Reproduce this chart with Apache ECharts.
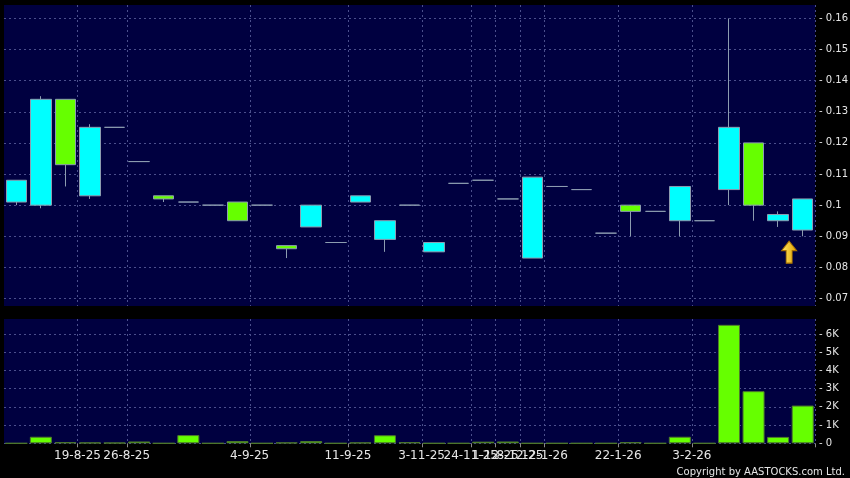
<!DOCTYPE html>
<html>
<head>
<meta charset="utf-8">
<script src="https://cdn.jsdelivr.net/npm/echarts@6/dist/echarts.min.js"></script>
<style>
  html, body { margin: 0; padding: 0; background: #000; }
  #chart { width: 850px; height: 478px; }
</style>
</head>
<body>
<div id="chart"></div>
<script>
// trading days (only some of them get a label on the axis)
const days = [
  '13-8-25', '14-8-25', '15-8-25', '19-8-25', '21-8-25', '26-8-25', '27-8-25', '28-8-25',
  '29-8-25', '2-9-25', '4-9-25', '5-9-25', '8-9-25', '9-9-25', '11-9-25', '12-9-25',
  '15-9-25', '3-11-25', '5-11-25', '24-11-25', '1-12-25', '8-12-25', '12-1-26', '14-1-26',
  '16-1-26', '22-1-26', '23-1-26', '27-1-26', '3-2-26', '4-2-26', '5-2-26', '6-2-26', '9-2-26'
];
const labelDays = [3, 5, 10, 14, 17, 19, 20, 21, 22, 25, 28];

const opens  = [0.101, 0.100, 0.134, 0.103, 0.125, 0.114, 0.103, 0.101, 0.100, 0.101, 0.100,
                0.087, 0.093, 0.088, 0.101, 0.089, 0.100, 0.085, 0.107, 0.108, 0.102, 0.083,
                0.106, 0.105, 0.091, 0.100, 0.098, 0.095, 0.095, 0.105, 0.120, 0.095, 0.092];
const closes = [0.108, 0.134, 0.113, 0.125, 0.125, 0.114, 0.102, 0.101, 0.100, 0.095, 0.100,
                0.086, 0.100, 0.088, 0.103, 0.095, 0.100, 0.088, 0.107, 0.108, 0.102, 0.109,
                0.106, 0.105, 0.091, 0.098, 0.098, 0.106, 0.095, 0.125, 0.100, 0.097, 0.102];
const lows   = [0.100, 0.099, 0.106, 0.102, 0.125, 0.114, 0.101, 0.101, 0.100, 0.095, 0.100,
                0.083, 0.093, 0.088, 0.101, 0.085, 0.100, 0.085, 0.107, 0.108, 0.102, 0.083,
                0.106, 0.105, 0.091, 0.090, 0.098, 0.090, 0.095, 0.100, 0.095, 0.093, 0.090];
const highs  = [0.108, 0.135, 0.134, 0.126, 0.125, 0.114, 0.103, 0.101, 0.100, 0.101, 0.100,
                0.087, 0.100, 0.088, 0.103, 0.095, 0.100, 0.088, 0.107, 0.108, 0.102, 0.109,
                0.106, 0.105, 0.091, 0.100, 0.098, 0.106, 0.095, 0.160, 0.120, 0.098, 0.102];
const volumes = [0, 360, 60, 40, 30, 100, 0, 450, 0, 120, 0, 40, 120, 0, 40, 440, 60, 0, 0,
                 90, 100, 0, 0, 0, 0, 60, 0, 360, 0, 6500, 2860, 350, 2070];

const priceTicks = [0.07, 0.08, 0.09, 0.10, 0.11, 0.12, 0.13, 0.14, 0.15, 0.16];
const volumeTicks = [0, 1000, 2000, 3000, 4000, 5000, 6000];

const gridLine = { show: true, lineStyle: { color: '#4b4f8c', type: [2, 3], width: 1 } };
const textColor = '#e6e6e6';
const isLabelDay = (i) => labelDays.includes(i);

const chart = echarts.init(document.getElementById('chart'));

chart.setOption({
  animation: false,
  backgroundColor: '#000',
  textStyle: { fontFamily: 'DejaVu Sans' },
  grid: [
    { left: 4, right: 35, top: 5, height: 301, outerBoundsMode: 'none', containLabel: false,
      show: true, backgroundColor: '#000040', borderWidth: 0 },
    { left: 4, right: 35, top: 319, bottom: 34.7, outerBoundsMode: 'none', containLabel: false,
      show: true, backgroundColor: '#000040', borderWidth: 0 }
  ],
  xAxis: [
    {
      type: 'category', gridIndex: 0, data: days, boundaryGap: true,
      axisLine: { show: false }, axisTick: { show: false }, axisLabel: { show: false },
      splitLine: Object.assign({ interval: isLabelDay }, gridLine)
    },
    {
      type: 'category', gridIndex: 1, data: days, boundaryGap: true,
      axisLine: { show: false },
      axisTick: { show: true, interval: isLabelDay, length: 4, lineStyle: { color: '#8a8a8a' } },
      axisLabel: {
        interval: isLabelDay, color: textColor, fontSize: 12, margin: 7,
        padding: [0, 25, 0, 0]
      },
      splitLine: Object.assign({ interval: isLabelDay }, gridLine)
    }
  ],
  yAxis: [
    {
      type: 'value', gridIndex: 0, position: 'right', min: 0.0676, max: 0.1643,
      axisLine: { show: false },
      axisTick: { show: false, customValues: priceTicks },
      axisLabel: {
        customValues: priceTicks, color: textColor, fontSize: 10, margin: 4,
        formatter: (v) => '- ' + parseFloat(v.toFixed(2))
      },
      splitLine: gridLine
    },
    {
      type: 'value', gridIndex: 1, position: 'right', min: 0, max: 6820,
      axisLine: { show: false },
      axisTick: { show: false, customValues: volumeTicks },
      axisLabel: {
        customValues: volumeTicks, color: textColor, fontSize: 10, margin: 4,
        formatter: (v) => '- ' + (v === 0 ? '0' : v / 1000 + 'K')
      },
      splitLine: gridLine
    }
  ],
  series: [
    {
      type: 'candlestick',
      xAxisIndex: 0, yAxisIndex: 0,
      barWidth: 21,
      data: days.map((d, i) => [opens[i], closes[i], lows[i], highs[i]]),
      itemStyle: {
        color: '#00ffff', color0: '#66ff00',
        borderColor: '#8c9cb0', borderColor0: '#8c9cb0', borderColorDoji: '#8c9cb0',
        borderWidth: 1
      },
      markPoint: {
        silent: true,
        label: { show: false },
        data: [{
          coord: [days[31], 0.0849],
          symbol: 'path://M5,0 L10,6 L7,6 L7,14 L3,14 L3,6 L0,6 Z',
          symbolSize: [15, 22],
          symbolOffset: [11, 0],
          itemStyle: {
            color: new echarts.graphic.LinearGradient(0, 0, 1, 0, [
              { offset: 0, color: '#ffe866' },
              { offset: 1, color: '#e0a000' }
            ]),
            borderColor: '#a87000', borderWidth: 1
          }
        }]
      }
    },
    {
      type: 'bar',
      xAxisIndex: 1, yAxisIndex: 1,
      barWidth: 22,
      data: volumes,
      itemStyle: { color: '#66ff00', borderColor: '#4f7a2c', borderWidth: 1 }
    }
  ],
  graphic: [{
    type: 'text', right: 5, bottom: 1,
    style: { text: 'Copyright by AASTOCKS.com Ltd.', fill: textColor, fontSize: 10, fontFamily: 'DejaVu Sans' }
  }]
});
</script>
</body>
</html>
